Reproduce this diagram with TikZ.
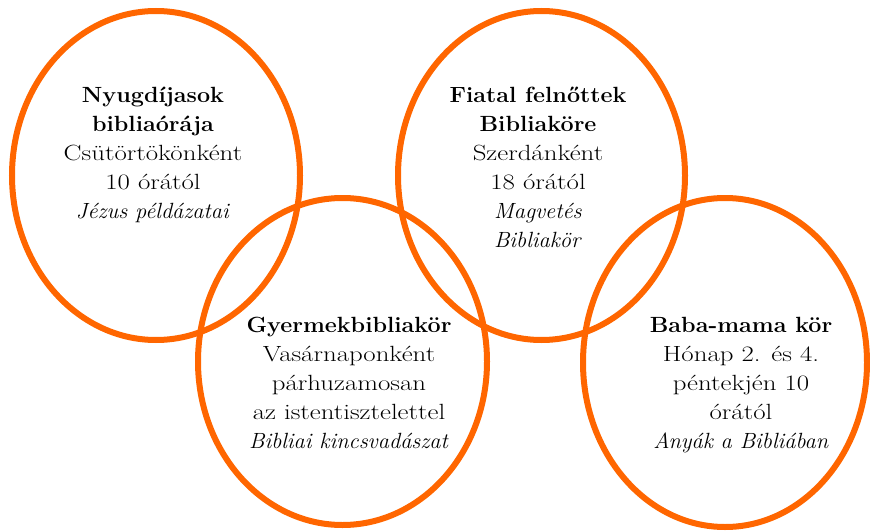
\documentclass[tikz,border=0pt]{standalone}
\usepackage{fontspec}
\setmainfont{Latin Modern Roman}[UprightFeatures={FakeStretch=1.22},BoldFeatures={FakeStretch=1.06},ItalicFeatures={FakeStretch=1.02}]
\definecolor{ringorange}{HTML}{FF6600}
\begin{document}
\begin{tikzpicture}[x=1pt,y=-1pt,
  ring/.style={draw=ringorange,line width=6pt},
  label/.style={align=center,anchor=base,inner sep=0pt,font=\fontsize{22}{29}\selectfont}]
\useasboundingbox (0,0) rectangle (870,532);
\draw[ring] (156,175.5) ellipse [x radius=144, y radius=164.5];
\draw[ring] (541.5,175.5) ellipse [x radius=143.5, y radius=164.5];
\draw[ring] (342.5,361.5) ellipse [x radius=144.5, y radius=163.5];
\draw[ring] (725,362.5) ellipse [x radius=142, y radius=164.5];
\node[label] (nyug) at (153,218.5) {\textbf{Nyugdíjasok}\\\textbf{bibliaórája}\\Csütörtökönként\\10 órától\\\textit{Jézus példázatai}};
\node[label] (fiatal) at (538,247) {\textbf{Fiatal felnőttek}\\\textbf{Bibliaköre}\\Szerdánként\\18 órától\\\textit{Magvetés}\\\textit{Bibliakör}};
\node[label] (gyer) at (349,448) {\textbf{Gyermekbibliakör}\\Vasárnaponként\\párhuzamosan\\az istentisztelettel\\\textit{Bibliai kincsvadászat}};
\node[label] (baba) at (741,448) {\textbf{Baba-mama kör}\\Hónap 2. és 4.\\péntekjén 10\\órától\\\textit{Anyák a Bibliában}};
\end{tikzpicture}
\end{document}
